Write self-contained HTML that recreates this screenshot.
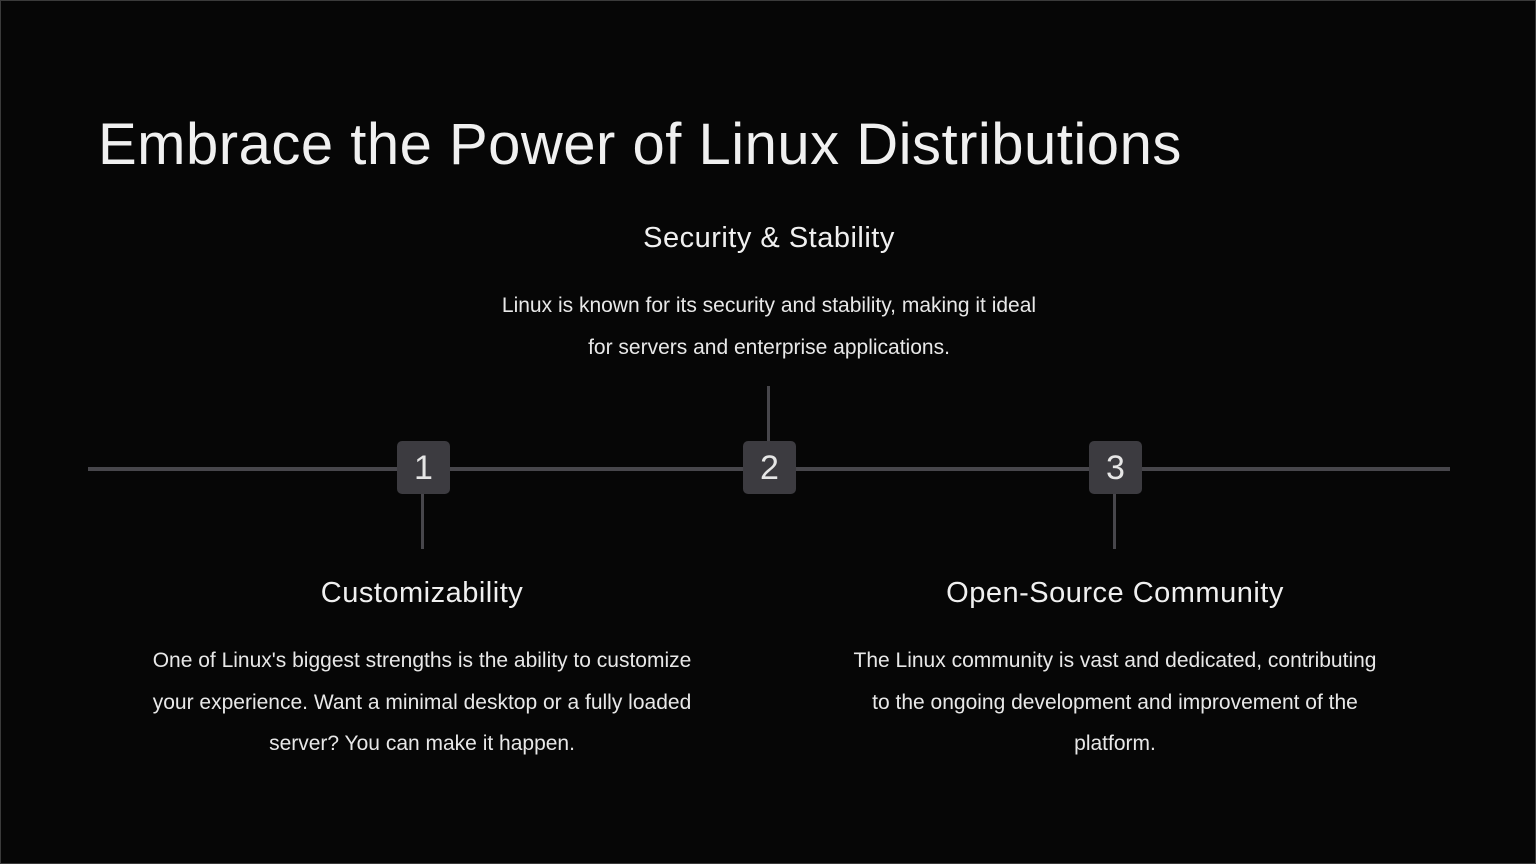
<!DOCTYPE html>
<html><head><meta charset="utf-8"><style>
html,body{margin:0;padding:0}
body{width:1536px;height:864px;background:#060606;position:relative;overflow:hidden;font-family:"Liberation Sans",sans-serif;color:#f0f0f0;box-sizing:border-box;border:1px solid #3a3a3a}
.t{position:absolute;left:97px;top:110px;font-size:58px;white-space:nowrap;letter-spacing:0.5px;font-weight:300}
.h{position:absolute;font-size:29px;text-align:center;white-space:nowrap;letter-spacing:0.5px}
.p{position:absolute;font-size:21px;line-height:41.5px;text-align:center;color:#e8e8e8}
.line{position:absolute;background:#47464b}
.box{position:absolute;width:53px;height:53px;background:#3c3b40;border-radius:5px;color:#e6e6e6;font-size:34px;text-align:center;line-height:55px}
</style></head><body>
<div class="t">Embrace the Power of Linux Distributions</div>
<div class="line" style="left:87px;top:466px;width:1362px;height:4px"></div>
<div class="line" style="left:766px;top:385px;width:3px;height:58px"></div>
<div class="line" style="left:420px;top:490px;width:3px;height:58px"></div>
<div class="line" style="left:1112px;top:490px;width:3px;height:58px"></div>
<div class="box" style="left:396px;top:440px">1</div>
<div class="box" style="left:742px;top:440px">2</div>
<div class="box" style="left:1088px;top:440px">3</div>
<div class="h" style="left:468px;width:600px;top:221px">Security &amp; Stability</div>
<div class="p" style="left:448px;width:640px;top:284px">Linux is known for its security and stability, making it ideal<br>for servers and enterprise applications.</div>
<div class="h" style="left:121px;width:600px;top:576px">Customizability</div>
<div class="p" style="left:101px;width:640px;top:639px">One of Linux's biggest strengths is the ability to customize<br>your experience. Want a minimal desktop or a fully loaded<br>server? You can make it happen.</div>
<div class="h" style="left:814px;width:600px;top:576px">Open-Source Community</div>
<div class="p" style="left:794px;width:640px;top:639px">The Linux community is vast and dedicated, contributing<br>to the ongoing development and improvement of the<br>platform.</div>
</body></html>
